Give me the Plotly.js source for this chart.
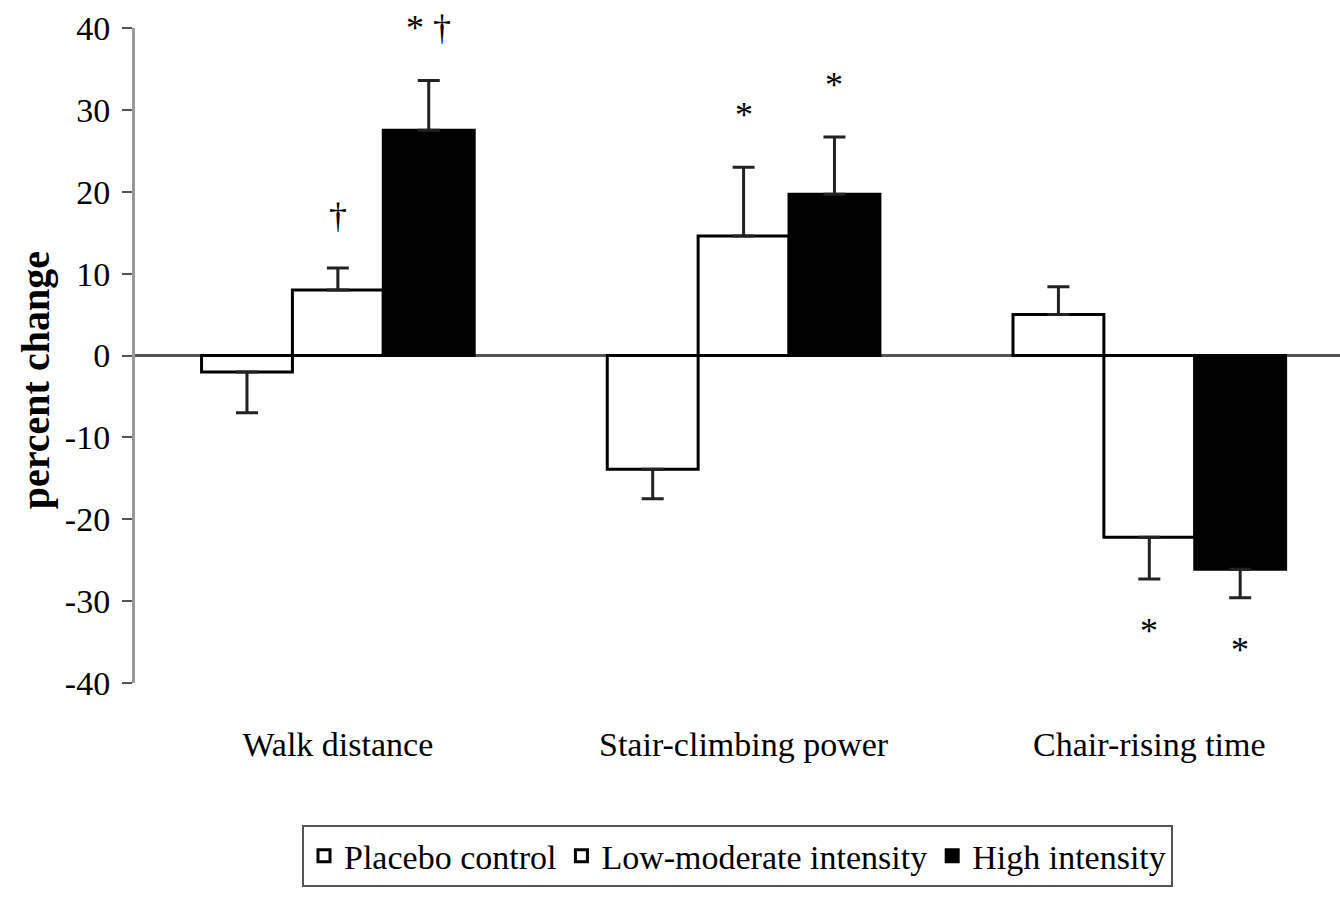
<!DOCTYPE html>
<html>
<head>
<meta charset="utf-8">
<script src="https://cdn.plot.ly/plotly-3.0.1.min.js"></script>
<style>html,body{margin:0;padding:0;background:#fff;}#chart{width:1340px;height:905px;}</style>
</head>
<body>
<div id="chart"></div>
<script>
// ---- data ----
const categories = ["Walk distance", "Stair-climbing power", "Chair-rising time"];
const seriesNames = ["Placebo control", "Low-moderate intensity", "High intensity"];
const placeboValues = [-2.0, -13.9, 5.0];
const placeboErrors = [5.0, 3.6, 3.4];
const lowModValues = [8.0, 14.6, -22.2];
const lowModErrors = [2.7, 8.4, 5.1];
const highValues = [27.5, 19.7, -26.1];
const highErrors = [6.1, 7.0, 3.5];
// significance markers per series, per category
const placeboSig = ["", "", ""];
const lowModSig = ["†", "*", "*"];
const highSig = ["* †", "*", "*"];
const yTickVals = [-40, -30, -20, -10, 0, 10, 20, 30, 40];
const yTitle = "percent change";

const fontFam = '"Liberation Serif", "Times New Roman", serif';
const fills = ["#ffffff", "#ffffff", "#000000"];
const valuesAll = [placeboValues, lowModValues, highValues];
const errorsAll = [placeboErrors, lowModErrors, highErrors];
const sigAll = [placeboSig, lowModSig, highSig];

const traces = valuesAll.map((vals, i) => ({
  type: 'bar',
  name: seriesNames[i],
  x: categories,
  y: vals,
  marker: {color: fills[i], line: {color: '#000', width: 3}},
  error_y: {
    type: 'data', symmetric: false,
    array: vals.map((v, j) => v >= 0 ? errorsAll[i][j] : 0),
    arrayminus: vals.map((v, j) => v < 0 ? errorsAll[i][j] : 0),
    color: '#222', thickness: 3, width: 11
  },
  hoverinfo: 'x+y+name'
}));

const bargap = 0.328;
const barW = (1 - bargap) / 3;
const annotations = [];
sigAll.forEach((sigs, i) => {
  sigs.forEach((s, j) => {
    if (!s) return;
    const v = valuesAll[i][j];
    const tip = v >= 0 ? v + errorsAll[i][j] : v - errorsAll[i][j];
    annotations.push({
      x: j + (i - 1) * barW, y: tip, xref: 'x', yref: 'y',
      text: s, showarrow: false,
      yshift: v >= 0 ? 52 : -52,
      font: {family: fontFam, size: 36, color: '#000'}
    });
  });
});
// y-axis title as an annotation (placed like the reference)
annotations.push({
  xref: 'paper', yref: 'paper', x: -0.082, y: 0.4626,
  xanchor: 'center', yanchor: 'middle', textangle: -90,
  text: yTitle, showarrow: false,
  font: {family: fontFam, size: 40, color: '#000', weight: 'bold'}
});

const layout = {
  width: 1340, height: 905,
  margin: {l: 135, r: 0, t: 28, b: 222},
  paper_bgcolor: '#fff', plot_bgcolor: '#fff',
  barmode: 'group', bargap: bargap, bargroupgap: 0,
  showlegend: true,
  legend: {
    orientation: 'h', x: 0.5, xanchor: 'center', xref: 'paper',
    y: -0.217, yanchor: 'top',
    bordercolor: '#555', borderwidth: 2, bgcolor: '#fff',
    font: {family: fontFam, size: 34, color: '#000'},
    itemwidth: 30, traceorder: 'normal'
  },
  xaxis: {
    type: 'category', range: [-0.5, 2.47],
    showline: false, ticks: '', showgrid: false, zeroline: false,
    tickfont: {family: fontFam, size: 34, color: '#000'},
    ticklabelstandoff: 38
  },
  yaxis: {
    range: [-40, 40], tickvals: yTickVals, ticktext: yTickVals.map(String),
    showline: true, linecolor: '#999', linewidth: 3,
    ticks: 'outside', ticklen: 10, tickwidth: 2, tickcolor: '#555',
    showgrid: false, zeroline: true, zerolinecolor: '#555', zerolinewidth: 3,
    tickfont: {family: fontFam, size: 34, color: '#000'},
    ticklabelstandoff: 5
  },
  annotations: annotations
};

Plotly.newPlot('chart', traces, layout, {displayModeBar: false, staticPlot: true});
</script>
</body>
</html>
